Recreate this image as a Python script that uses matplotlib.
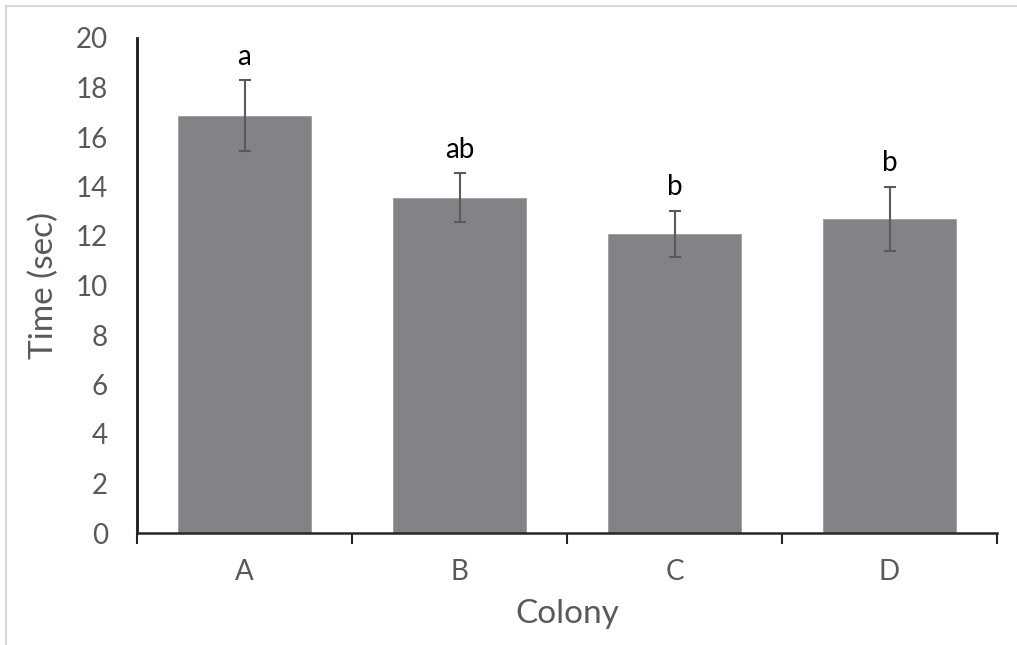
import matplotlib
matplotlib.use("Agg")
import matplotlib.pyplot as plt
from matplotlib.lines import Line2D
import numpy as np

colonies = ["A", "B", "C", "D"]
mean_time = [16.85, 13.55, 12.07, 12.70]
err_low = [15.45, 12.57, 11.15, 11.40]
err_high = [18.30, 14.53, 13.02, 13.99]
letters = ["a", "ab", "b", "b"]

plt.rcParams['font.family'] = ['Lato', 'DejaVu Sans']

W, H = 1017, 645
fig = plt.figure(figsize=(W / 100, H / 100), dpi=100)
ax = fig.add_axes([137 / W, (H - 533) / H, (997 - 137) / W, (533 - 38) / H])

x = np.arange(len(colonies))
mean = np.array(mean_time)
yerr = np.vstack([mean - np.array(err_low), np.array(err_high) - mean])

ax.bar(x, mean, width=0.614, color="#828387", edgecolor="#9a9b9e", linewidth=0.6, zorder=2)
ax.errorbar(x, mean, yerr=yerr, fmt="none", ecolor="#5a5a5a", elinewidth=1.5,
            capsize=4.5, capthick=1.5, zorder=3)

for xi, top, lab in zip(x, err_high, letters):
    ax.annotate(lab, (xi, top), xytext=(0, 11), textcoords="offset points",
                ha="center", va="baseline", fontsize=20, color="black")

ax.set_xlim(-0.5, len(colonies) - 0.5)
ax.set_ylim(0, 20)
ax.set_yticks(np.arange(0, 21, 2))
ax.set_xticks(x)
ax.set_xticklabels(colonies)
ax.set_xticks(np.arange(-0.5, len(colonies), 1), minor=True)

ax.tick_params(axis="y", length=0, pad=21, labelsize=20, labelcolor="#595959")
ax.tick_params(axis="x", which="major", length=0, pad=19, labelsize=20, labelcolor="#595959")
ax.tick_params(axis="x", which="minor", length=8, width=1.5, color="#262626", direction="out")

for s in ["top", "right"]:
    ax.spines[s].set_visible(False)
ax.spines["left"].set_linewidth(2.0)
ax.spines["bottom"].set_linewidth(1.8)
ax.spines["left"].set_color("#1a1a1a")
ax.spines["bottom"].set_color("#262626")

ax.set_ylabel("Time (sec)", fontsize=24, color="#595959", labelpad=12)
ax.set_xlabel("Colony", fontsize=24, color="#595959", labelpad=10)

# light chart frame, cut off at right and bottom
fig.add_artist(Line2D([6 / W, 1.0], [1 - 6 / H, 1 - 6 / H], color="#d9d9d9", linewidth=1.5))
fig.add_artist(Line2D([6 / W, 6 / W], [0.0, 1 - 6 / H], color="#d9d9d9", linewidth=1.5))

fig.savefig("out.png", dpi=100)
